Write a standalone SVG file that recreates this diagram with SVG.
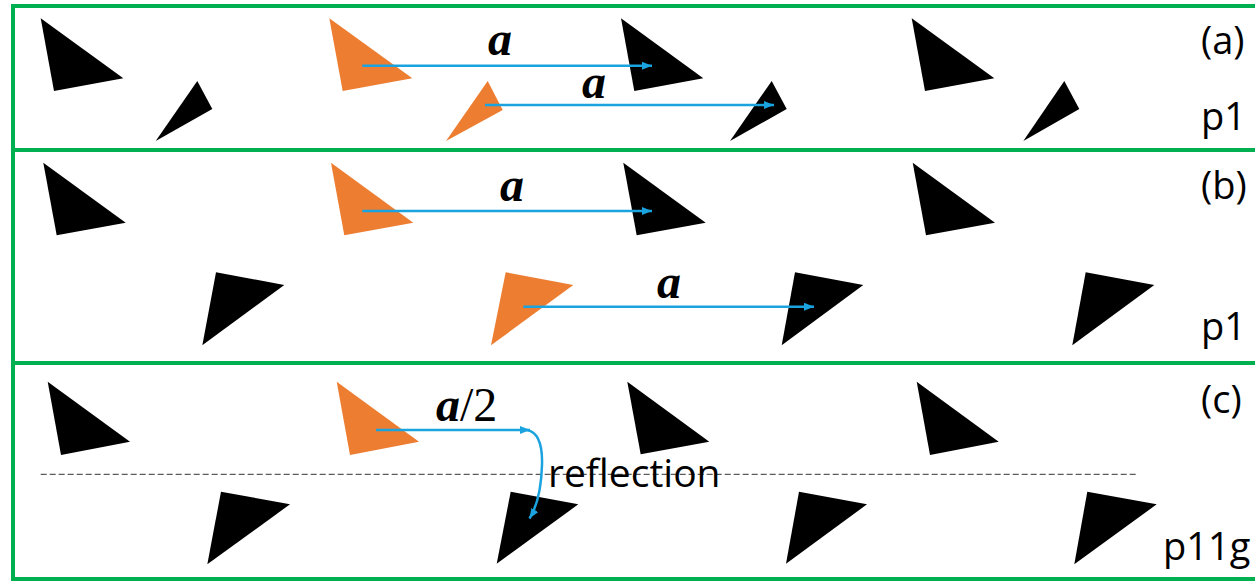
<svg xmlns="http://www.w3.org/2000/svg" width="1255" height="581" viewBox="0 0 1255 581">
<defs>
<style>
.frame{fill:none;stroke:#00B050;stroke-width:4}
.blk{fill:#000}
.org{fill:#ED7D31}
.vec{fill:none;stroke:#1AA3DE;stroke-width:2.5}
.lbl{font-family:"Open Sans","Noto Sans",sans-serif;font-size:38px;fill:#000}
.vl{font-family:"Liberation Serif","Times New Roman",serif;font-size:48px;font-weight:bold;font-style:italic;fill:#000}
.vr{font-family:"Liberation Serif","Times New Roman",serif;font-size:48px;fill:#000}
.refl{font-family:"Open Sans","Noto Sans",sans-serif;font-size:39px;fill:#000}
</style>
<marker id="ah" viewBox="0 0 10 8" refX="10" refY="4" markerWidth="10" markerHeight="8" markerUnits="userSpaceOnUse" orient="auto">
<path d="M0,0 L10,4 L0,8 Z" fill="#1AA3DE"/>
</marker>
</defs>
<rect width="1255" height="581" fill="#fff"/>
<g id="frames">
<rect class="frame" x="13" y="6" width="1260" height="144"/>
<rect class="frame" x="13" y="150" width="1260" height="213"/>
<rect class="frame" x="13" y="363" width="1260" height="216"/>
</g>
<g id="panel-a">
<polygon id="a-t1" class="blk" points="40.7,18.3 123.3,78.3 54,91"/>
<polygon id="a-s1" class="blk" points="197.3,81 212.3,109 155.7,141"/>
<polygon id="a-o1" class="org" points="329.3,18.3 412.3,78.3 342.7,91"/>
<polygon id="a-os" class="org" points="487.7,81 502.7,110 446,141"/>
<polygon id="a-t2" class="blk" points="621,18.3 703.3,78.3 634.3,91"/>
<polygon id="a-s2" class="blk" points="771.7,81 786.7,109 730,141"/>
<polygon id="a-t3" class="blk" points="911.7,18.3 994.3,78.3 925,91"/>
<polygon id="a-s3" class="blk" points="1064.3,81 1079.3,109 1023.3,141"/>
<text class="lbl" x="1201" y="54">(a)</text>
<text class="lbl" x="1201" y="130">p1</text>
</g>
<g id="panel-b">
<polygon id="b-t1" class="blk" points="43.3,162.7 125.7,222.7 56.7,235.3"/>
<polygon id="b-o1" class="org" points="331,162.7 413.3,222.7 344.3,235.3"/>
<polygon id="b-t2" class="blk" points="623.3,162.7 705.7,222.7 636.7,235.3"/>
<polygon id="b-t3" class="blk" points="912.7,162.7 995,222.7 926,235.3"/>
<polygon id="b-l1" class="blk" points="216,272.3 284.3,285 202.3,345.3"/>
<polygon id="b-lo" class="org" points="505.7,272.3 573.3,285 491,345.3"/>
<polygon id="b-l2" class="blk" points="795,272.3 863.3,285 781.7,345.3"/>
<polygon id="b-l3" class="blk" points="1085.7,272.3 1154.3,285 1072.3,345.3"/>
<text class="lbl" x="1201" y="199">(b)</text>
<text class="lbl" x="1201" y="340">p1</text>
</g>
<g id="panel-c">
<line x1="40.7" y1="474.3" x2="1136.7" y2="474.3" stroke="#333" stroke-width="1" stroke-dasharray="6,3"/>
<polygon id="c-t1" class="blk" points="47.7,381.7 130,441.7 61,455"/>
<polygon id="c-o1" class="org" points="336.7,381.7 419,441.7 350,455"/>
<polygon id="c-t2" class="blk" points="627.3,381.7 709.3,441.7 640.7,454.3"/>
<polygon id="c-t3" class="blk" points="916.7,381.7 998.7,441.7 930,455"/>
<polygon id="c-l1" class="blk" points="221,491.7 290,504.3 207.3,564.3"/>
<polygon id="c-l2" class="blk" points="510.7,491.7 578.3,504.3 496.7,563.7"/>
<polygon id="c-l3" class="blk" points="799,491.7 867,504.3 786,563.7"/>
<polygon id="c-l4" class="blk" points="1087.3,491.7 1156.7,504.3 1074.3,564.3"/>
<text class="lbl" x="1201" y="413">(c)</text>
<text class="lbl" x="1163" y="560">p11g</text>
<text class="refl" x="548" y="487">reflection</text>
</g>
<g id="connectors">
<line class="vec" x1="362.3" y1="65.7" x2="652" y2="65.7" marker-end="url(#ah)"/>
<line class="vec" x1="485" y1="105" x2="774" y2="105" marker-end="url(#ah)"/>
<line class="vec" x1="362.3" y1="211" x2="652" y2="211" marker-end="url(#ah)"/>
<line class="vec" x1="523.3" y1="306.7" x2="814" y2="306.7" marker-end="url(#ah)"/>
<line class="vec" x1="376" y1="430" x2="530" y2="430" marker-end="url(#ah)"/>
<path class="vec" d="M527,430 Q543,433 542,465 Q541,500 529.5,518.5" marker-end="url(#ah)"/>
<text class="vl" x="488" y="55">a</text>
<text class="vl" x="582" y="98">a</text>
<text class="vl" x="500" y="201">a</text>
<text class="vl" x="657" y="298">a</text>
<text x="436" y="421"><tspan class="vl">a</tspan><tspan class="vr">/2</tspan></text>
</g>
</svg>
